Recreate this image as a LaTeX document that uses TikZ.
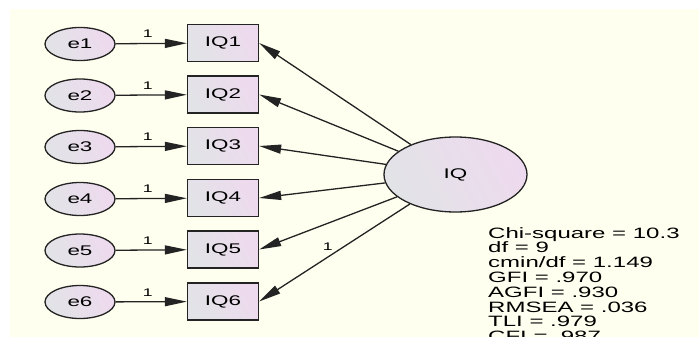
\documentclass[tikz,border=0pt]{standalone}
\usepackage{fontspec}
\setmainfont{Liberation Sans}
\newfontfamily\amosfont[FakeStretch=1.6]{Liberation Sans}
\usetikzlibrary{arrows.meta,shapes.geometric}

\definecolor{paper}{RGB}{255,255,240}
\definecolor{varlo}{RGB}{226,227,231}
\definecolor{varhi}{RGB}{238,218,238}
\definecolor{edge}{RGB}{35,35,35}

\begin{document}
\begin{tikzpicture}[x=1pt,y=1pt,yscale=-1,xscale=1,
  errvar/.style={ellipse,draw=edge,line width=1.3pt,minimum width=70pt,minimum height=33pt,inner sep=0pt,
    left color=varlo,right color=varhi,shading angle=120,font=\amosfont\fontsize{14}{14}\selectfont},
  obsvar/.style={rectangle,draw=edge,line width=1.3pt,minimum width=71pt,minimum height=37pt,inner sep=0pt,
    left color=varlo,right color=varhi,shading angle=120,font=\amosfont\fontsize{14}{14}\selectfont},
  latvar/.style={ellipse,draw=edge,line width=1.3pt,minimum width=143pt,minimum height=75pt,inner sep=0pt,
    left color=varlo,right color=varhi,shading angle=120,font=\amosfont\fontsize{14}{14}\selectfont},
  load/.style={draw=edge,line width=1.3pt,-{Triangle[length=22pt,width=9pt]}},
  weight/.style={font=\amosfont\fontsize{11}{11}\selectfont,inner xsep=0pt,inner ysep=5pt,anchor=south},
]
\useasboundingbox (0,0) rectangle (699,337);
%Shape: Background
\fill [white] (0,0) rectangle (699,337);
\fill [paper] (10,9) rectangle (699,337);

%Shape: Ellipse (error terms)
\node [errvar] (e1) at (80,44) {e1};
\node [errvar] (e2) at (80,95.5) {e2};
\node [errvar] (e3) at (80,147) {e3};
\node [errvar] (e4) at (80,199) {e4};
\node [errvar] (e5) at (80,250.5) {e5};
\node [errvar] (e6) at (80,302) {e6};

%Shape: Rectangle (items)
\node [obsvar] (IQ1) at (223,43) {IQ1};
\node [obsvar] (IQ2) at (223,94.5) {IQ2};
\node [obsvar] (IQ3) at (223,146) {IQ3};
\node [obsvar] (IQ4) at (223,198) {IQ4};
\node [obsvar] (IQ5) at (223,249.5) {IQ5};
\node [obsvar] (IQ6) at (223,301.5) {IQ6};

%Shape: Ellipse (factor)
\node [latvar] (IQ) at (455.5,174.5) {IQ};

%Straight Lines (error paths)
\draw [load] (e1) -- (IQ1) node [weight,pos=0.45] {1};
\draw [load] (e2) -- (IQ2) node [weight,pos=0.45] {1};
\draw [load] (e3) -- (IQ3) node [weight,pos=0.45] {1};
\draw [load] (e4) -- (IQ4) node [weight,pos=0.45] {1};
\draw [load] (e5) -- (IQ5) node [weight,pos=0.45] {1};
\draw [load] (e6) -- (IQ6) node [weight,pos=0.45] {1};

%Straight Lines (loadings)
\draw [load] (IQ) -- (IQ1.east);
\draw [load] (IQ) -- (IQ2.east);
\draw [load] (IQ) -- (IQ3.east);
\draw [load] (IQ) -- (IQ4.east);
\draw [load] (IQ) -- (IQ5.east);
\draw [load] (IQ) -- (IQ6.east) node [weight,pos=0.545,inner ysep=6pt] {1};

% Text Node
\node [anchor=north west,inner sep=0pt,align=left,font=\amosfont\fontsize{15}{14.8}\selectfont] (fit) at (488,227)
  {Chi-square = 10.3\\df = 9\\cmin/df = 1.149\\GFI = .970\\AGFI = .930\\RMSEA = .036\\TLI = .979\\CFI = .987};

\end{tikzpicture}
\end{document}
